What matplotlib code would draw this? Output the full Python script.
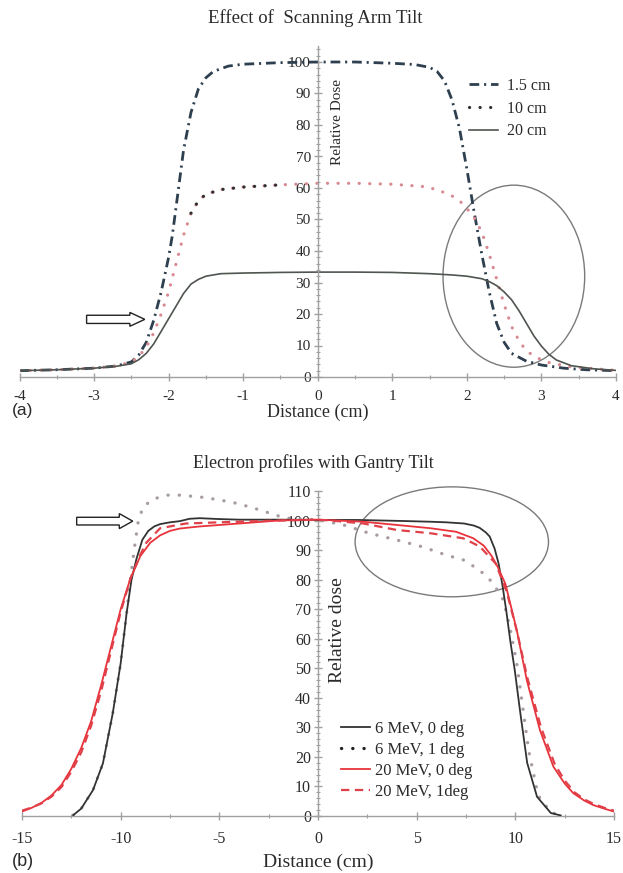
import matplotlib
matplotlib.use("Agg")
import matplotlib.pyplot as plt
from matplotlib.patches import Ellipse, FancyArrow
from matplotlib.ticker import MultipleLocator
import numpy as np

plt.rcParams['font.family'] = ['Liberation Serif', 'DejaVu Serif']
plt.rcParams['axes.unicode_minus'] = False
plt.rcParams['lines.scale_dashes'] = False

# ---- pannello (a): Effect of Scanning Arm Tilt ----
x_15 = [-4, -3.5, -3, -2.7, -2.5, -2.4, -2.3, -2.2, -2.1, -2.0, -1.95, -1.9, -1.85, -1.8, -1.7, -1.6,
        -1.5, -1.4, -1.2, -1.0, -0.5, 0, 0.5, 1.0, 1.3, 1.5, 1.6, 1.7, 1.8, 1.9, 2.0, 2.1, 2.2, 2.3,
        2.4, 2.5, 2.6, 2.8, 3.0, 3.3, 3.6, 4.0]
y_15 = [2.0, 2.3, 2.8, 3.5, 4.8, 7, 11, 18, 27, 38, 45, 54, 63, 72, 84, 91.5,
        95, 97, 98.7, 99.3, 99.8, 100, 100, 99.6, 99.2, 98.3, 97, 94, 88, 79, 66, 52, 39, 27,
        17, 11, 7.5, 5, 3.8, 2.8, 2.3, 2.0]

x_10 = [-4, -3.5, -3, -2.7, -2.5, -2.4, -2.3, -2.2, -2.1, -2.0, -1.9, -1.8, -1.7, -1.6, -1.5, -1.3,
        -1.0, -0.5, 0, 0.5, 1.0, 1.4, 1.6, 1.8, 1.95, 2.1, 2.2, 2.3, 2.4, 2.5, 2.6, 2.7, 2.8, 2.95,
        3.1, 3.4, 4.0]
y_10 = [2.0, 2.3, 2.8, 3.5, 4.8, 6.5, 9.5, 14, 20, 27, 36, 45, 52, 56, 58, 59.5,
        60.3, 61, 61.5, 61.5, 61.2, 60.5, 59.5, 57.5, 55, 50.5, 46, 39, 31, 23, 16, 11.5, 8.2, 6,
        4.6, 3.2, 2.1]

x_20 = [-4, -3.5, -3, -2.7, -2.5, -2.4, -2.3, -2.2, -2.1, -2.0, -1.9, -1.8, -1.7, -1.6, -1.5, -1.3,
        -1.0, -0.5, 0, 0.5, 1.0, 1.5, 1.8, 2.0, 2.2, 2.3, 2.4, 2.5, 2.6, 2.7, 2.8, 2.9, 3.0, 3.1,
        3.2, 3.4, 3.7, 4.0]
y_20 = [2.0, 2.3, 2.8, 3.4, 4.2, 5.5, 7.5, 10.5, 14.5, 18.5, 22.5, 26.5, 29.5, 31, 32.0, 32.8,
        33.0, 33.2, 33.3, 33.3, 33.2, 32.8, 32.4, 32.0, 31.2, 30.3, 29.0, 27.0, 24.5, 21.0, 17.0, 13.0, 9.8, 7.2,
        5.4, 3.6, 2.6, 2.1]

labels_a = ["1.5 cm", "10 cm", "20 cm"]

# ---- pannello (b): Electron profiles with Gantry Tilt ----
x_6_0 = [-12.4, -12.0, -11.4, -10.9, -10.4, -10.0, -9.7, -9.45, -9.2, -8.9, -8.6, -8.3, -8.0, -7.5,
         -7.0, -6.5, -6.0, -5.0, -4.0, -2.0, 0, 2, 4, 5.7, 6.5, 7.4, 7.9, 8.2, 8.5, 8.7, 8.95, 9.15,
         9.35, 9.55, 9.75, 9.97, 10.25, 10.6, 11.1, 11.8, 12.3]
y_6_0 = [0.3, 2.5, 8.8, 17.8, 34.8, 51.7, 68.6, 80, 87, 93.5, 96.5, 98.0, 98.8, 99.4,
         99.8, 100.6, 100.8, 100.5, 100.3, 100.3, 100.2, 100.2, 99.9, 99.6, 99.4, 99, 98.3, 97.5, 96, 94.6, 90.5, 85.5,
         78, 69, 59, 49.4, 35, 18, 6.5, 1.0, 0.2]

x_6_1 = [-12.4, -12.0, -11.4, -10.9, -10.4, -10.0, -9.7, -9.45, -9.27, -9.1, -8.85, -8.35, -7.6,
         -7.0, -6.0, -5.0, -4.1, -3.3, -2.4, -1.7, -1.0, 0, 1.3, 2.6, 4.0, 5.3, 6.5, 7.4, 8.0, 8.5,
         8.9, 9.4, 9.75, 10.07, 10.35, 10.68, 11.15, 11.8, 12.3]
y_6_1 = [0.3, 2.5, 8.8, 17.8, 34.8, 51.7, 68.6, 83, 92.3, 100.2, 104.7, 107.3, 108.6,
         108.6, 108, 107, 105.8, 104.3, 102.4, 100.9, 100.5, 100.3, 98.5, 95.7, 93.4, 91.1, 88.3, 86.6, 84, 81.5,
         78.5, 73, 63, 51.7, 38, 22, 7, 1.2, 0.3]

x_20_0 = [-15, -14.5, -14, -13.5, -13, -12.5, -12, -11.5, -11, -10.5, -10, -9.5, -9, -8.5, -8,
          -7.5, -7, -6, -5, -4, -3, -2, -1, 0, 1, 2.3, 4.0, 5.7, 7.0, 7.87, 8.4, 8.8, 9.1, 9.5,
          10.07, 10.58, 11.25, 11.93, 12.5, 12.94, 13.5, 13.95, 14.5, 15]
y_20_0 = [1.5, 2.8, 4.5, 7, 10.5, 16, 23, 32, 44, 57, 70, 80.5, 88, 92.5, 95,
          96.5, 97.3, 98, 98.5, 99, 99.5, 100, 100.2, 100.3, 100, 99.6, 98.5, 97.4, 96.2, 94, 91.5, 88, 84.4, 78.5,
          63, 46, 29, 16.7, 11, 7.7, 5.2, 3.7, 2.5, 1.5]

x_20_1 = [-15, -14.5, -14, -13.5, -13, -12.5, -12, -11.5, -11, -10.5, -10, -9.5, -9, -8.7, -8,
          -6.7, -5, -2.5, 0, 1, 2.3, 4.0, 5.7, 7.36, 8.2, 9.0, 9.56, 10.1, 10.6, 11.3, 12.0,
          12.5, 13.0, 13.5, 14.0, 14.5, 15]
y_20_1 = [1.8, 2.9, 4.3, 6.6, 9.8, 15, 21.5, 30.5, 42, 55.5, 69, 80.5, 88.5, 92.5, 97.4,
          99, 99.4, 99.9, 100.3, 99.8, 99, 96.8, 95.7, 94, 91.2, 85.5, 76, 62, 47, 30, 17.5,
          12, 8, 5.6, 4, 2.8, 1.8]

labels_b = ["6 MeV, 0 deg", "6 MeV, 1 deg", "20 MeV, 0 deg", "20 MeV, 1deg"]

W, H = 623, 873
fig = plt.figure(figsize=(W / 100, H / 100), dpi=100)
fig.patch.set_facecolor("white")

spine_col = "#a0a0a0"
txt_col = "#2a2a2a"


def stile_assi(ax, xmaj, xmin, ymaj, ymin, fs_tick, xpad):
    for s in ["top", "right"]:
        ax.spines[s].set_visible(False)
    ax.spines["left"].set_position(("data", 0))
    ax.spines["bottom"].set_position(("data", 0))
    for s in ["left", "bottom"]:
        ax.spines[s].set_color(spine_col)
        ax.spines[s].set_linewidth(1.0)
    ax.xaxis.set_major_locator(MultipleLocator(xmaj))
    ax.xaxis.set_minor_locator(MultipleLocator(xmin))
    ax.yaxis.set_major_locator(MultipleLocator(ymaj))
    ax.yaxis.set_minor_locator(MultipleLocator(ymin))
    ax.tick_params(axis="both", which="both", direction="inout", colors=spine_col,
                   labelcolor=txt_col, labelsize=fs_tick)
    ax.tick_params(axis="both", which="major", length=6, width=1)
    ax.tick_params(axis="both", which="minor", length=3, width=0.8)
    ax.tick_params(axis="x", which="major", pad=xpad)
    ax.tick_params(axis="y", which="major", pad=2)
    ax.set_facecolor("none")


# ---------- (a) ----------
ax1 = fig.add_axes([19.5 / W, 1 - 377 / H, (616 - 19.5) / W, 105 * 3.15 / H])
ax1.set_xlim(-4, 4)
ax1.set_ylim(0, 105)
stile_assi(ax1, 1, 0.5, 10, 2, 11, 6.5)

x10 = np.array(x_10)
y10 = np.array(y_10)
ax1.plot(x_15, y_15, color="#2e3f4f", lw=2.0, linestyle=(0, (7, 3.5, 1.5, 3.5)), label=labels_a[0])
ax1.plot(x10, y10, color="#d88a90", lw=2.3, linestyle=(0, (0.1, 7.5)),
         dash_capstyle="round", label="_nolegend_")
tratto = (x10 >= -1.75) & (x10 <= -0.4)
ax1.plot(x10[tratto], y10[tratto], color="#303030", lw=2.3, linestyle=(0, (0.1, 7.5)),
         dash_capstyle="round", label=labels_a[1])
ax1.plot(x_20, y_20, color="#4f554f", lw=1.2, label=labels_a[2])

ax1.add_patch(Ellipse((2.63, 32.0), 1.9, 57.8, fill=False, ec="#7a7a7a", lw=1.0, clip_on=False))
ax1.add_patch(FancyArrow(-3.10, 18.3, 0.78, 0, width=2.6, head_width=4.4, head_length=0.2,
                         length_includes_head=True, fc="white", ec="#222222", lw=1.0))

ax1.text(0.26, 81, "Relative Dose", rotation=90, ha="center", va="center",
         fontsize=11, color=txt_col)
leg1 = ax1.legend(loc="upper left", bbox_to_anchor=(469 / W, 1 - 78 / H),
                  bbox_transform=fig.transFigure, frameon=False, fontsize=11.5,
                  handlelength=1.8, handletextpad=0.55, labelspacing=0.42,
                  borderpad=0, borderaxespad=0)
for t in leg1.get_texts():
    t.set_color(txt_col)

fig.text(315 / W, 1 - 18 / H, "Effect of  Scanning Arm Tilt", ha="center", va="center",
         fontsize=13.5, color=txt_col)
fig.text(318 / W, 1 - 412 / H, "Distance (cm)", ha="center", va="center",
         fontsize=13, color=txt_col)
fig.text(12 / W, 1 - 411 / H, "(a)", ha="left", va="center", fontsize=12.5,
         family=["Liberation Sans", "DejaVu Sans"], color=txt_col)

# ---------- (b) ----------
ax2 = fig.add_axes([22 / W, 1 - 816 / H, (614 - 22) / W, (816 - 491) / H])
ax2.set_xlim(-15, 15)
ax2.set_ylim(0, 110)
stile_assi(ax2, 5, 2.5, 10, 2, 11.5, 8)

ax2.plot(x_6_0, y_6_0, color="#333333", lw=1.3, label=labels_b[0], zorder=3)
ax2.plot(x_6_1, y_6_1, color="#a89ca4", lw=2.4, linestyle=(0, (0.1, 8)),
         dash_capstyle="round", label=labels_b[1], zorder=2)
ax2.plot(x_20_0, y_20_0, color="#e8333b", lw=1.3, label=labels_b[2], zorder=4)
ax2.plot(x_20_1, y_20_1, color="#e0404a", lw=1.6, linestyle=(0, (6, 4)),
         label=labels_b[3], zorder=4)

ax2.add_patch(Ellipse((6.78, 92.8), 9.8, 37.2, fill=False, ec="#7a7a7a", lw=1.0, clip_on=False))
ax2.add_patch(FancyArrow(-12.23, 99.8, 2.84, 0, width=2.6, head_width=5.1, head_length=0.68,
                         length_includes_head=True, fc="white", ec="#222222", lw=1.0))

ax2.text(1.0, 62.8, "Relative dose", rotation=90, ha="center", va="center",
         fontsize=14, color=txt_col)
leg2 = ax2.legend(loc="upper left", bbox_to_anchor=(341 / W, 1 - 721 / H),
                  bbox_transform=fig.transFigure, frameon=False, fontsize=12,
                  handlelength=1.75, handletextpad=0.3, labelspacing=0.3,
                  borderpad=0, borderaxespad=0)
leg2.legend_handles[1].set_color("#222222")
for t in leg2.get_texts():
    t.set_color(txt_col)

fig.text(313 / W, 1 - 463 / H, "Electron profiles with Gantry Tilt", ha="center", va="center",
         fontsize=13, color=txt_col)
fig.text(318 / W, 1 - 862 / H, "Distance (cm)", ha="center", va="center",
         fontsize=14, color=txt_col)
fig.text(12 / W, 1 - 862 / H, "(b)", ha="left", va="center", fontsize=13,
         family=["Liberation Sans", "DejaVu Sans"], color=txt_col)

fig.savefig("out.png", dpi=100)
